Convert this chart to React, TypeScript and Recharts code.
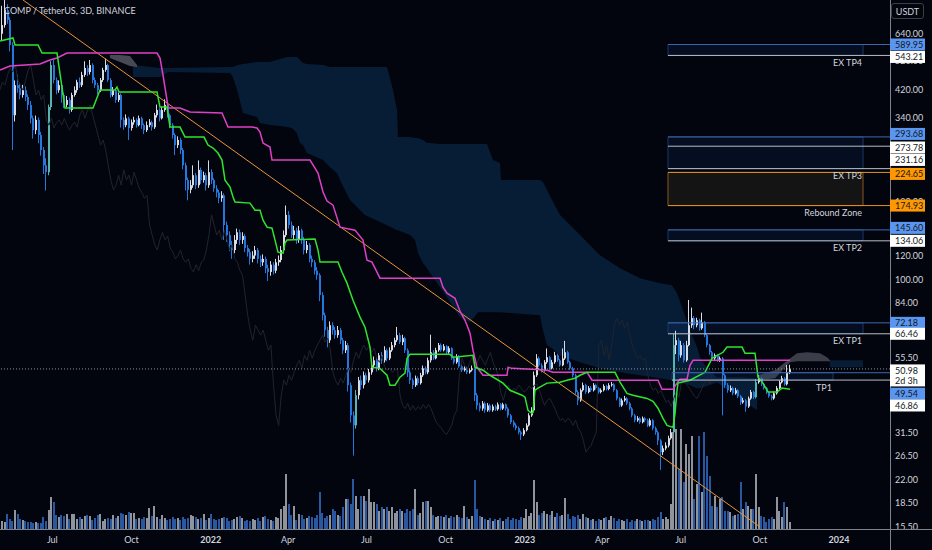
import React from 'react';
import { ComposedChart, XAxis, YAxis, Bar, Line, Area, ReferenceLine, ReferenceArea } from 'recharts';

const FONT = "Lato, 'Noto Sans', 'DejaVu Sans', sans-serif";
const BG = '#03050e';
const TEXT = '#d1d4dc';
const UP = '#d9dce3';
const DOWN = '#2377dd';
const TEAL = '#56b3ad';
const VOL_UP = '#8f939b';
const VOL_DOWN = '#2a58a0';

// ---------- data ----------
const FIRST_CANDLE = '2021-05-04';
const BAR_DAYS = 3;
const OPEN0 = 640;

const closes = [
  683, 765, 710, 588, 346, 434, 424, 403, 418, 397,
  374, 338, 309, 334, 298, 266, 237, 225, 368, 505,
  451, 418, 434, 403, 374, 388, 360, 403, 418, 444,
  434, 469, 494, 479, 505, 451, 434, 418, 451, 487,
  505, 451, 403, 418, 388, 403, 334, 321, 338, 314,
  328, 334, 321, 338, 321, 309, 321, 328, 316, 346,
  360, 338, 360, 374, 346, 321, 298, 276, 287, 266,
  237, 212, 197, 204, 220, 204, 229, 212, 220, 204,
  225, 212, 199, 193, 185, 189, 151, 140, 130, 125,
  135, 143, 135, 139, 127, 123, 117, 120, 125, 117,
  114, 117, 109, 106, 112, 107, 114, 116, 125, 140,
  163, 151, 140, 145, 135, 145, 135, 125, 130, 117,
  114, 107, 103.5, 89, 76.5, 68.3, 63.3, 70.9, 68.3, 65.8,
  68.3, 63.3, 58.7, 61, 45.1, 35.9, 33.3, 41.8, 46.8, 45.1,
  48.6, 46.8, 49.7, 52.4, 54.4, 51.2, 56.5, 54.4, 58.7, 55.2,
  58.7, 61, 63.3, 65.8, 62.4, 64.3, 58.7, 49.7, 46.8, 45.1,
  47.5, 45.8, 48.6, 51.2, 49.7, 54.4, 57.8, 55.2, 58.7, 61,
  58.7, 60.5, 57.8, 59.6, 55.2, 53.6, 56.1, 52, 50.5, 51.2,
  49.7, 50.5, 51.2, 41.8, 38.7, 37.8, 39.3, 37.3, 38.7, 37.3,
  38.4, 37.6, 39, 37.8, 39, 37.8, 35.9, 34.1, 33.3, 32.6,
  31.6, 31.1, 32.1, 33.3, 35.9, 37.3, 48.6, 55.2, 52.4, 50.5,
  53.6, 55.7, 51.2, 53.6, 56.5, 54.4, 52.4, 55.2, 57.8, 53.6,
  51.2, 48.6, 42.8, 40.2, 43.4, 45.1, 42.8, 44.1, 43.4, 45.1,
  44.1, 42.8, 43.4, 44.8, 43.8, 45.1, 45.4, 43.4, 40.8, 38.7,
  40.2, 40.8, 39.3, 37.8, 35.9, 34.6, 35.1, 34.1, 35.1, 34.6,
  33.3, 34.6, 32.6, 31.6, 29.7, 27.2, 28, 28.6, 30.2, 31.6,
  61, 63.3, 56.5, 61, 54.4, 61, 70.9, 74.8, 70.9, 73.6,
  69.3, 72.5, 65.8, 61, 57.8, 55.2, 56.5, 54.4, 55.2, 48.6,
  45.1, 43.4, 44.1, 42.4, 43.4, 41.5, 39.6, 40.2, 38.4, 40.8,
  42.8, 41.2, 46.1, 47.5, 45.4, 44.1, 42.8, 41.5, 40.8, 42.4,
  44.1, 46.1, 47.5, 45.4, 49.7, 50.98,
];

const highs = [
  790, 830, 800, 725, 600, 450, 470, 440, 435, 430,
  405, 385, 345, 345, 340, 305, 272, 250, 375, 520,
  525, 460, 450, 440, 410, 400, 395, 410, 430, 452,
  460, 480, 520, 505, 525, 512, 460, 442, 458, 495,
  530, 510, 458, 428, 425, 410, 408, 340, 348, 342,
  335, 342, 338, 345, 342, 325, 330, 336, 332, 352,
  375, 365, 368, 390, 378, 350, 326, 302, 295, 292,
  270, 242, 216, 212, 237, 224, 246, 233, 226, 224,
  246, 230, 215, 204, 197, 195, 192, 155, 144, 134,
  140, 147, 146, 143, 141, 130, 126, 124, 129, 127,
  120, 121, 119, 112, 115, 114, 117, 120, 129, 145,
  175, 168, 155, 150, 148, 150, 147, 138, 134, 132,
  120, 116, 110, 105, 91, 78, 70, 73, 72.5, 70,
  70.5, 69.5, 64.5, 63, 62, 46, 37, 43.5, 48, 48.5,
  50, 49.5, 51, 54, 56, 55.5, 57.5, 58, 60.5, 59.5,
  60, 62.5, 64.5, 70, 67, 66, 65, 59.5, 50.5, 47.5,
  48.5, 48.2, 49.5, 52.3, 52, 55.5, 66, 58.8, 59.8, 62,
  61.8, 61.5, 61, 60.5, 60, 56, 57, 56.6, 52.8, 52,
  51.8, 51.2, 52.3, 51.8, 42.5, 39.5, 40, 39.8, 39.4, 39.2,
  39, 38.9, 39.6, 39.4, 39.5, 39.3, 38.2, 36.3, 34.6, 33.8,
  33, 32, 32.6, 33.8, 36.5, 38.2, 50, 57, 56, 53.2,
  54.5, 59.5, 56.3, 54.6, 58, 57.2, 55, 59.5, 63, 58.5,
  54.2, 51.8, 49.2, 43.4, 44, 46, 45.6, 44.8, 44.8, 45.8,
  45.6, 44.5, 44, 45.4, 45.2, 45.8, 46.2, 45.8, 43.8, 41.2,
  40.8, 41.6, 41.2, 39.8, 38.2, 36.3, 35.7, 35.5, 35.6, 35.5,
  35, 35.1, 34.9, 33, 32, 30, 28.6, 29.3, 30.8, 32.4,
  66.5, 68, 64.5, 63, 62, 63, 85.8, 81, 76, 75,
  74.5, 78, 73.2, 66.5, 61.6, 58.4, 57.3, 57, 56, 55.8,
  49.2, 45.8, 45, 44.6, 44.2, 43.8, 41.9, 41, 40.6, 41.4,
  43.5, 43.2, 47.2, 48.6, 47.9, 45.8, 44.5, 43.2, 42, 43,
  44.8, 46.8, 48.4, 48, 52.5, 52.6,
];

const lows = [
  610, 670, 690, 560, 266, 330, 410, 390, 395, 385,
  360, 325, 290, 300, 280, 255, 222, 196, 220, 360,
  440, 405, 410, 380, 365, 368, 350, 355, 398, 410,
  425, 428, 462, 465, 470, 440, 425, 405, 412, 445,
  480, 445, 395, 398, 380, 382, 315, 310, 316, 287,
  308, 322, 315, 318, 312, 300, 305, 316, 308, 312,
  340, 330, 335, 355, 340, 314, 290, 256, 270, 258,
  230, 196, 182, 192, 200, 198, 200, 206, 208, 196,
  200, 206, 194, 186, 178, 180, 135, 133, 124, 117,
  122, 131, 130, 131, 123, 119, 112, 114, 117, 113,
  110, 111, 105, 99, 103, 104, 105, 111, 114, 123,
  138, 147, 137, 136, 131, 132, 131, 121, 122, 114,
  110, 104, 100, 85, 73.5, 65, 60, 62, 66, 64,
  64.5, 61.5, 57, 57.5, 43, 34, 26.5, 32.5, 40.5, 43.5,
  44, 45.5, 46, 48.8, 51.5, 50, 50.5, 53, 53.5, 54,
  54.5, 58, 60, 62.5, 61.5, 61, 57.5, 48, 45.5, 43.8,
  44.5, 45, 45.3, 48, 49, 49, 53.5, 54.5, 54.8, 58,
  58, 58.2, 57, 57.2, 54.6, 52.8, 53, 51.4, 49.8, 50,
  49, 49.2, 50, 40, 37.5, 37, 37.2, 36.6, 36.9, 36.8,
  36.9, 37.1, 37.2, 37.3, 37.4, 37.2, 35.3, 33.6, 32.8, 32.1,
  31.1, 29.8, 30.7, 31.8, 33, 35.5, 37, 48, 51.6, 49.6,
  50, 53, 50.5, 50.8, 53, 53.8, 51.8, 52, 54.6, 53,
  50.5, 47.8, 42, 38.8, 39.8, 43, 42.2, 42.4, 42.8, 43,
  43.6, 42.3, 42.4, 43, 43.3, 43.4, 44.6, 42.9, 40.2, 38.2,
  38.3, 39.8, 38.8, 37.3, 35.4, 34.1, 34.2, 33.7, 33.8, 34.1,
  32.9, 33, 32.1, 31, 28.7, 23.8, 26.6, 27.6, 28.2, 29.9,
  31.2, 57, 54, 55.5, 53.5, 53.8, 60.5, 69.5, 68.8, 69.8,
  68, 68.5, 64.8, 60, 56.8, 54.4, 54.5, 53.8, 53.8, 35.9,
  44.2, 42.6, 42.8, 41.8, 42, 40.9, 38.8, 39.2, 36.9, 38,
  40.4, 40.6, 40.8, 45.6, 44.8, 43.6, 42.2, 41, 40.2, 40.4,
  42, 43.8, 45.7, 44.9, 45, 49,
];

// volume, thousands of COMP per 3D candle
const volumes = [
  8, 7, 15, 10, 8, 19, 15, 10, 9, 8,
  7, 7, 6, 7, 6, 6, 12, 8, 19, 32,
  27, 14, 12, 14, 13, 15, 10, 15, 15, 10,
  12, 10, 13, 14, 13, 9, 11, 14, 15, 8,
  10, 11, 10, 14, 11, 13, 16, 15, 14, 17,
  16, 16, 10, 11, 10, 12, 11, 21, 13, 23,
  12, 10, 14, 11, 9, 10, 12, 10, 11, 9,
  12, 10, 11, 14, 13, 12, 10, 11, 15, 9,
  11, 15, 10, 9, 10, 11, 12, 11, 8, 9,
  10, 12, 13, 11, 8, 9, 8, 10, 9, 11,
  8, 12, 13, 10, 9, 8, 12, 11, 20, 23,
  55, 25, 14, 23, 9, 15, 14, 10, 11, 13,
  12, 11, 14, 37, 16, 11, 13, 14, 20, 18,
  14, 13, 22, 30, 30, 25, 50, 33, 20, 33,
  33, 28, 40, 27, 27, 25, 18, 22, 20, 22,
  18, 22, 16, 18, 20, 18, 16, 20, 18, 20,
  40, 14, 16, 27, 28, 28, 22, 14, 12, 13,
  13, 12, 14, 11, 13, 12, 14, 12, 11, 23,
  12, 10, 13, 49, 20, 13, 12, 10, 9, 11,
  8, 10, 9, 11, 8, 10, 12, 9, 11, 10,
  9, 12, 11, 20, 13, 16, 49, 27, 14, 16,
  18, 15, 14, 18, 12, 16, 13, 14, 31, 15,
  10, 13, 12, 14, 10, 15, 12, 11, 9, 10,
  8, 10, 9, 11, 12, 9, 13, 11, 8, 10,
  9, 8, 10, 7, 9, 8, 10, 9, 8, 9,
  9, 8, 10, 9, 12, 17, 10, 12, 10, 25,
  97, 100, 60, 100, 47, 85, 75, 93, 30, 45,
  93, 37, 97, 73, 53, 23, 33, 22, 30, 32,
  18, 18, 17, 13, 14, 15, 47, 20, 27, 23,
  20, 20, 55, 22, 13, 12, 7, 10, 12, 10,
  32, 18, 12, 27, 22, 7,
];

const tealCandles = [18, 19, 137, 260, 292];

// Ichimoku conversion line (green), [bar, price]
const conversionLine = [
  [-0.93, 605.6], [4.11, 619.6], [4.88, 587.6], [13.79, 587.6], [15.34, 553.2], [21.15, 553.2], [24.24, 365.1], [35.09, 365.1],
  [37.8, 418.3], [43.61, 418.3], [44.38, 427.9], [45.16, 412.0], [59.88, 412.0], [61.04, 367.9], [63.75, 367.9], [64.91, 316.4],
  [68.78, 316.4], [70.72, 293.3], [78.08, 293.3], [79.63, 276.2], [81.57, 270.0], [83.5, 260.0], [85.05, 246.6], [86.21, 212.0],
  [88.15, 201.1], [89.31, 186.5], [90.09, 179.6], [95.89, 178.2], [97.83, 169.0], [99.77, 169.0], [100.93, 156.7], [102.48, 148.6],
  [104.42, 147.5], [105.58, 134.8], [106.74, 123.1], [108.68, 122.2], [109.45, 131.8], [110.22, 134.8], [121.07, 135.8], [122.23, 125.0],
  [123.01, 114.2], [129.97, 114.2], [131.53, 105.8], [133.46, 97.4], [135.79, 85.6], [138.5, 75.4], [140.43, 69.8], [142.37, 60.1],
  [143.14, 51.6], [146.24, 51.2], [148.95, 48.6], [150.11, 45.1], [152.05, 45.1], [153.99, 47.9], [155.93, 49.4], [156.7, 55.2],
  [157.86, 56.9], [173.35, 56.9], [174.51, 55.7], [182.26, 56.5], [183.03, 51.6], [186.13, 50.5], [188.85, 48.6], [193.88, 45.8],
  [196.59, 43.4], [201.24, 41.8], [202.4, 41.2], [203.56, 37.3], [205.11, 36.4], [205.5, 36.7], [206.27, 43.4], [207.44, 44.1],
  [210.92, 45.8], [215.96, 46.1], [218.67, 46.8], [221.77, 47.5], [223.7, 48.6], [226.42, 49.7], [237.26, 49.7], [239.19, 46.1],
  [241.9, 42.4], [244.23, 41.8], [249.65, 40.8], [251.97, 39.9], [253.91, 37.9], [255.85, 35.1], [257.4, 33.3], [259.72, 32.8],
  [260.5, 36.4], [261.27, 43.4], [261.66, 45.8], [266.3, 46.8], [272.11, 49.7], [274.83, 55.2], [279.09, 57.8], [280.63, 60.1],
  [286.44, 60.1], [287.61, 57.4], [291.48, 57.4], [292.64, 47.9], [294.58, 45.8], [296.51, 42.8], [300.0, 42.8], [301.94, 44.1],
  [305.03, 43.7],
];

// Ichimoku base line (magenta), [bar, price]
const baseLine = [
  [-0.93, 486.5], [2.94, 501.5], [14.56, 509.1], [18.44, 524.7], [21.15, 532.7], [25.02, 553.2], [59.88, 553.2], [61.04, 532.7],
  [62.2, 468.5], [63.75, 387.9], [64.14, 365.1], [68.78, 365.1], [72.66, 354.3], [85.05, 351.6], [87.38, 316.4], [96.67, 316.4],
  [98.61, 314.0], [99.77, 304.7], [100.93, 280.4], [103.64, 272.1], [104.42, 246.6], [119.13, 246.6], [121.07, 232.1], [122.23, 223.5],
  [124.17, 193.7], [125.72, 180.9], [128.04, 175.5], [130.75, 148.6], [136.56, 145.3], [139.66, 134.8], [141.21, 115.9], [143.14, 114.2],
  [146.24, 101.1], [169.48, 101.1], [170.64, 94.5], [172.19, 90.3], [175.29, 86.9], [177.22, 78.8], [179.16, 73.6], [179.93, 70.9],
  [181.1, 66.8], [182.26, 58.7], [183.81, 51.6], [186.13, 48.6], [195.43, 48.6], [195.82, 51.6], [197.37, 51.2], [207.05, 50.8],
  [210.92, 50.5], [213.25, 49.7], [226.42, 49.7], [228.35, 46.8], [253.91, 46.8], [255.46, 43.7], [259.72, 43.7], [261.27, 45.8],
  [262.43, 47.2], [265.14, 47.2], [266.3, 52.4], [267.47, 54.4], [305.03, 54.4],
];

// bearish cloud, [bar, upper, lower]
const bearCloud = [
  [50.58, 505.3, 461.5], [61.04, 493.9, 461.5], [64.14, 493.9, 479.3], [88.15, 497.8, 475.7], [89.31, 497.8, 461.5],
  [91.25, 505.3, 408.9], [93.18, 509.1, 351.6], [95.89, 513.0, 346.4], [98.61, 516.9, 341.2], [99.77, 516.9, 326.1],
  [103.64, 516.9, 321.2], [107.51, 528.7, 318.8], [110.22, 536.8, 316.4], [112.16, 536.8, 314.0], [114.1, 536.8, 302.3],
  [115.26, 524.7, 280.4], [116.42, 513.0, 276.2], [117.97, 509.1, 260.0], [124.17, 505.3, 246.6], [126.88, 497.8, 233.8],
  [129.59, 497.8, 223.5], [130.75, 497.8, 212.0], [132.69, 497.8, 196.6], [134.63, 497.8, 182.3], [140.43, 497.8, 162.8],
  [148.95, 497.8, 150.9], [151.28, 418.3, 147.5], [152.83, 359.7, 145.3], [153.21, 293.3, 145.3], [157.86, 293.3, 140.0],
  [159.8, 291.1, 134.8], [160.96, 291.1, 122.2], [162.9, 286.8, 113.3], [164.45, 280.4, 109.0], [165.61, 280.4, 105.1],
  [169.48, 278.3, 94.5], [172.19, 278.3, 87.6], [174.51, 278.3, 81.3], [177.22, 278.3, 75.4], [181.1, 278.3, 72.5],
  [184.2, 278.3, 78.2], [187.68, 278.3, 78.2], [190.01, 246.6, 78.2], [192.72, 241.0, 78.2], [193.1, 212.0, 78.2],
  [208.21, 212.0, 76.5], [209.37, 208.8, 68.3], [210.92, 196.6, 61.0], [212.86, 182.3, 59.6], [215.96, 162.8, 56.5],
  [223.7, 140.0, 53.6], [231.45, 120.3, 51.2], [239.19, 109.0, 49.7], [246.94, 101.1, 48.6], [254.69, 97.4, 47.5],
  [259.33, 95.9, 46.8], [261.27, 90.3, 46.1], [263.21, 81.3, 45.8], [266.3, 68.3, 45.1], [269.01, 60.1, 44.1],
  [270.18, 55.7, 44.1], [272.89, 51.2, 44.8], [276.76, 47.9, 46.1], [285.67, 47.9, 40.8], [292.25, 47.5, 37.3],
  [292.45, 47.3, 47.3], [320.4, 54.0, 54.0], [320.53, 54.4, 51.6], [333.31, 54.4, 51.6],
];

// bullish cloud segments, [bar, upper, lower]
const bullCloudA = [[41.67, 544.9, 532.7], [45.55, 544.9, 516.9], [49.42, 540.8, 501.5], [52.13, 505.3, 497.8]];
const bullCloudB = [
  [292.64, 48.6, 46.8], [299.23, 50.5, 47.5], [305.03, 55.2, 53.6], [307.75, 57.4, 54.0],
  [311.62, 57.8, 54.0], [316.66, 57.4, 54.0], [319.37, 55.7, 54.0], [320.53, 54.4, 54.0],
];
const LAGGING_SHIFT = 29;

// descending trendline, [bar, price]
const trendLine = [[7.98, 825.4], [293.4, 15.47]];

// levels / zones
const zoneNames = ['EX TP4', 'EX TP3', 'Rebound Zone', 'EX TP2', 'EX TP1', 'TP1'];
const zoneTops = [589.95, 293.68, 224.65, 145.6, 72.18, 49.54];
const zoneBottoms = [543.21, 231.16, 174.93, 134.06, 66.46, 46.86];
const zoneFromBar = [257.78, 257.78, 257.78, 257.78, 257.78, 259.33];
const zoneToBar = [333.31, 333.31, 333.31, 333.31, 333.31, 321.69];
const zoneKinds = ['tp', 'tp', 'rebound', 'tp', 'tp', 'tp'];

const levelPrices = [589.95, 543.21, 293.68, 273.78, 231.16, 224.65, 174.93, 145.6, 134.06, 72.18, 66.46, 49.54, 46.86];
const levelKinds = ['blue', 'white', 'blue', 'white', 'white', 'orange', 'orange', 'blue', 'white', 'blue', 'white', 'blue', 'white'];
const levelFromBar = [257.78, 257.78, 257.78, 257.78, 257.78, 257.78, 257.78, 257.78, 257.78, 257.78, 257.78, 259.33, 259.33];

const LAST_PRICE = 50.98;
const BAR_COUNTDOWN = '2d 3h';

const tickDates = ['2021-07-01', '2021-10-01', '2022-01-01', '2022-04-01', '2022-07-01', '2022-10-01', '2023-01-01', '2023-04-01', '2023-07-01', '2023-10-01', '2024-01-01'];
const tickLabels = ['Jul', 'Oct', '2022', 'Apr', 'Jul', 'Oct', '2023', 'Apr', 'Jul', 'Oct', '2024'];
// price-scale labels not hidden behind the level tags
const priceTicks = [640, 520, 420, 340, 180, 120, 100, 84, 55.5, 38, 31.5, 26.5, 22, 18.5, 15.5];

// ---------- layout / styles ----------
const X_DOMAIN: [number, number] = [-0.93, 343.76];
const Y_DOMAIN: [number, number] = [15.23, 825.4];
const VOL_DOMAIN: [number, number] = [0, 529];
const X_LABEL_BASELINE = 543;
const TAG_DY: Record<string, number> = { '543.21': 1.5, '293.68': -3, '273.78': 1.3, '231.16': -8.7, '224.65': 1.5, '145.6': -2, '49.54': 21, '46.86': 25.4 };
const KIND_STYLE: Record<string, { line: string; bg: string; fg: string }> = {
  blue: { line: '#3d69ad', bg: '#5a96f0', fg: '#131722' },
  white: { line: '#b9bcc4', bg: '#ffffff', fg: '#131722' },
  orange: { line: '#e8901c', bg: '#ff9800', fg: '#131722' },
};

const startMs = Date.parse(FIRST_CANDLE);
const dateToBar = (s: string) => (Date.parse(s) - startMs) / 86400000 / BAR_DAYS;
const tickBars = tickDates.map(dateToBar);

const candles = closes.map((c, k) => {
  const o = k === 0 ? OPEN0 : closes[k - 1];
  const h = Math.max(highs[k], o, c);
  const l = Math.min(lows[k], o, c);
  return { i: k, o, c, h, l, range: [l, h], vol: volumes[k], up: c >= o, teal: tealCandles.includes(k) };
});
const lagging = closes.map((c, k) => ({ i: k - LAGGING_SHIFT, v: c }));
const toPts = (arr: number[][]) => arr.map(([i, v]) => ({ i, v }));
const toRange = (arr: number[][]) => arr.map(([i, hi, lo]) => ({ i, r: [lo, hi] }));

const CandleShape = (props: any) => {
  const { x, y, width, height, payload } = props;
  if (x == null || y == null || !payload) return null;
  let top = y;
  let hh = height;
  if (hh < 0) { top = y + hh; hh = -hh; }
  const cx = Math.round(x + width / 2);
  const lh = Math.log(payload.h);
  const ll = Math.log(payload.l);
  const span = lh - ll || 1;
  const py = (p: number) => top + (hh * (lh - Math.log(p))) / span;
  const yo = py(payload.o);
  const yc = py(payload.c);
  const by = Math.min(yo, yc);
  const bh = Math.max(Math.abs(yc - yo), 1);
  const col = payload.teal ? TEAL : payload.up ? UP : DOWN;
  return (
    <g>
      <rect x={cx - 1} y={top} width={1} height={hh} fill={col} />
      <rect x={cx - 1} y={by} width={2} height={bh} fill={col} />
    </g>
  );
};

const VolShape = (props: any) => {
  const { x, y, width, height, payload } = props;
  if (x == null || y == null || !payload) return null;
  let top = y;
  let hh = height;
  if (hh < 0) { top = y + hh; hh = -hh; }
  const cx = Math.round(x + width / 2);
  return <rect x={cx - 1} y={top} width={2} height={hh} fill={payload.up ? VOL_UP : VOL_DOWN} />;
};

const XTick = (props: any) => {
  const { x, payload } = props;
  const idx = tickBars.findIndex((b) => Math.abs(b - payload.value) < 0.01);
  const label = idx >= 0 ? tickLabels[idx] : '';
  const isYear = /^\d{4}$/.test(label);
  return (
    <text x={x} y={X_LABEL_BASELINE} textAnchor="middle" fontSize={9} fontWeight={isYear ? 700 : 400} fill={TEXT} fontFamily={FONT}>
      {label}
    </text>
  );
};

const makeTag = (text: string, bg: string, fg: string, dy: number, sub?: string) => (props: any) => {
  const vb = props.viewBox || {};
  const x = (vb.x ?? 0) + (vb.width ?? 0);
  const y = (vb.y ?? 0) + dy;
  const h = sub ? 22 : 12;
  return (
    <g>
      <rect x={x} y={y - 6} width={35} height={h} fill={bg} />
      <text x={x + 5} y={y + 3.2} fontSize={9} fill={fg} fontFamily={FONT}>{text}</text>
      {sub ? <text x={x + 5} y={y + 13.2} fontSize={9} fill={fg} fontFamily={FONT}>{sub}</text> : null}
    </g>
  );
};

const makeZoneLabel = (name: string) => (props: any) => {
  const vb = props.viewBox || {};
  return (
    <text x={(vb.x ?? 0) + (vb.width ?? 0) - 1} y={(vb.y ?? 0) + (vb.height ?? 0) + 10.5} textAnchor="end" fontSize={9} fill={TEXT} fontFamily={FONT}>
      {name}
    </text>
  );
};

const axesFor = (withTicks: boolean) => [
  <XAxis key="x" xAxisId="x" dataKey="i" type="number" domain={X_DOMAIN} allowDataOverflow ticks={tickBars} interval={0}
    height={21} tickSize={0} tickMargin={0} axisLine={false} tickLine={false}
    tick={withTicks ? (p: any) => <XTick {...p} /> : false} />,
  <XAxis key="vx" xAxisId="vx" dataKey="i" type="number" domain={X_DOMAIN} allowDataOverflow hide />,
  <YAxis key="p" yAxisId="p" orientation="right" type="number" scale="log" domain={Y_DOMAIN} allowDataOverflow ticks={priceTicks}
    interval={0} width={42} tickSize={0} tickMargin={5} axisLine={false} tickLine={false}
    tickFormatter={(v: number) => v.toFixed(2)} tick={withTicks ? { fill: TEXT, fontSize: 9, fontFamily: FONT } : false} />,
  <YAxis key="v" yAxisId="v" type="number" domain={VOL_DOMAIN} allowDataOverflow hide />,
];

export default function App() {
  return (
    <div style={{ position: 'absolute', left: 0, top: 0, width: 932, height: 550, background: BG, fontFamily: FONT, overflow: 'hidden' }}>
      <div style={{ position: 'absolute', left: 0, top: 0 }}>
        <ComposedChart width={932} height={550} data={candles} margin={{ top: 0, right: 0, bottom: 0, left: 0 }}>
          {axesFor(true)}

          <Area xAxisId="x" yAxisId="p" data={toRange(bearCloud)} dataKey="r" type="linear" stroke="none" fill="#071d35" fillOpacity={1} dot={false} activeDot={false} isAnimationActive={false} />
          <Area xAxisId="x" yAxisId="p" data={toRange(bullCloudA)} dataKey="r" type="linear" stroke="none" fill="#474a54" fillOpacity={1} dot={false} activeDot={false} isAnimationActive={false} />
          <Area xAxisId="x" yAxisId="p" data={toRange(bullCloudB)} dataKey="r" type="linear" stroke="none" fill="#3b3e48" fillOpacity={1} dot={false} activeDot={false} isAnimationActive={false} />

          {zoneNames.map((name, z) => (
            <ReferenceArea key={name} xAxisId="x" yAxisId="p" x1={zoneFromBar[z]} x2={zoneToBar[z]} y1={zoneBottoms[z]} y2={zoneTops[z]}
              fill={zoneKinds[z] === 'rebound' ? '#161616' : '#1848a0'} fillOpacity={zoneKinds[z] === 'rebound' ? 0.9 : 0.13}
              stroke={zoneKinds[z] === 'rebound' ? '#8a5a20' : '#1c3966'} strokeOpacity={1} ifOverflow="visible" />
          ))}

          <Line xAxisId="x" yAxisId="p" data={lagging} dataKey="v" type="linear" stroke="#20242d" strokeWidth={1} dot={false} activeDot={false} isAnimationActive={false} />

          <Bar xAxisId="vx" yAxisId="v" dataKey="vol" barSize={2} shape={(p: any) => <VolShape {...p} />} activeBar={false} isAnimationActive={false} />
          <Bar xAxisId="x" yAxisId="p" dataKey="range" barSize={2} shape={(p: any) => <CandleShape {...p} />} activeBar={false} isAnimationActive={false} />

          <Line xAxisId="x" yAxisId="p" data={toPts(trendLine)} dataKey="v" type="linear" stroke="#e8943a" strokeWidth={1} dot={false} activeDot={false} isAnimationActive={false} />
          <Line xAxisId="x" yAxisId="p" data={toPts(baseLine)} dataKey="v" type="linear" stroke="#e040c8" strokeWidth={1.5} dot={false} activeDot={false} isAnimationActive={false} />
          <Line xAxisId="x" yAxisId="p" data={toPts(conversionLine)} dataKey="v" type="linear" stroke="#2ee52e" strokeWidth={1.5} dot={false} activeDot={false} isAnimationActive={false} />

          <ReferenceLine xAxisId="x" yAxisId="p" y={LAST_PRICE} stroke="#8d9099" strokeDasharray="1 2" />
          {levelPrices.map((p, j) => (
            <ReferenceLine key={'lv' + j} xAxisId="x" yAxisId="p"
              segment={[{ x: levelFromBar[j], y: p }, { x: X_DOMAIN[1], y: p }]}
              stroke={KIND_STYLE[levelKinds[j]].line} strokeWidth={1} />
          ))}
        </ComposedChart>
      </div>

      <div style={{ position: 'absolute', left: 0, top: 529, width: 932, height: 1, background: '#7f828b' }} />
      <div style={{ position: 'absolute', left: 890, top: 0, width: 1, height: 550, background: '#7f828b' }} />

      {/* overlay: price tags and zone captions on top of axis labels */}
      <div style={{ position: 'absolute', left: 0, top: 0, pointerEvents: 'none' }}>
        <ComposedChart width={932} height={550} data={candles} margin={{ top: 0, right: 0, bottom: 0, left: 0 }}>
          {axesFor(false)}
          {zoneNames.map((name, z) => (
            <ReferenceArea key={'zl' + name} xAxisId="x" yAxisId="p" x1={zoneFromBar[z]} x2={zoneToBar[z]} y1={zoneBottoms[z]} y2={zoneTops[z]}
              fill="none" fillOpacity={0} stroke="none" ifOverflow="visible" label={makeZoneLabel(name)} />
          ))}
          <ReferenceLine xAxisId="x" yAxisId="p" y={LAST_PRICE} stroke="none" strokeOpacity={0}
            label={makeTag(LAST_PRICE.toFixed(2), '#ffffff', '#131722', 1.5, BAR_COUNTDOWN)} />
          {levelPrices.map((p, j) => {
            const st = KIND_STYLE[levelKinds[j]];
            return (
              <ReferenceLine key={'tg' + j} xAxisId="x" yAxisId="p"
                segment={[{ x: levelFromBar[j], y: p }, { x: X_DOMAIN[1], y: p }]}
                stroke="none" strokeOpacity={0}
                label={makeTag(p.toFixed(2), st.bg, st.fg, TAG_DY[String(p)] ?? 0)} />
            );
          })}
        </ComposedChart>
      </div>

      <div style={{ position: 'absolute', left: 4, top: 5, fontSize: 9, lineHeight: '11px', color: TEXT, whiteSpace: 'nowrap' }}>
        COMP / TetherUS, 3D, BINANCE
      </div>
      <div style={{ position: 'absolute', left: 891, top: 3, width: 33, height: 16, border: '1px solid #3a3e4a', borderRadius: 3,
        color: TEXT, fontSize: 9, lineHeight: '16px', textAlign: 'center', boxSizing: 'border-box' }}>
        USDT
      </div>
    </div>
  );
}
